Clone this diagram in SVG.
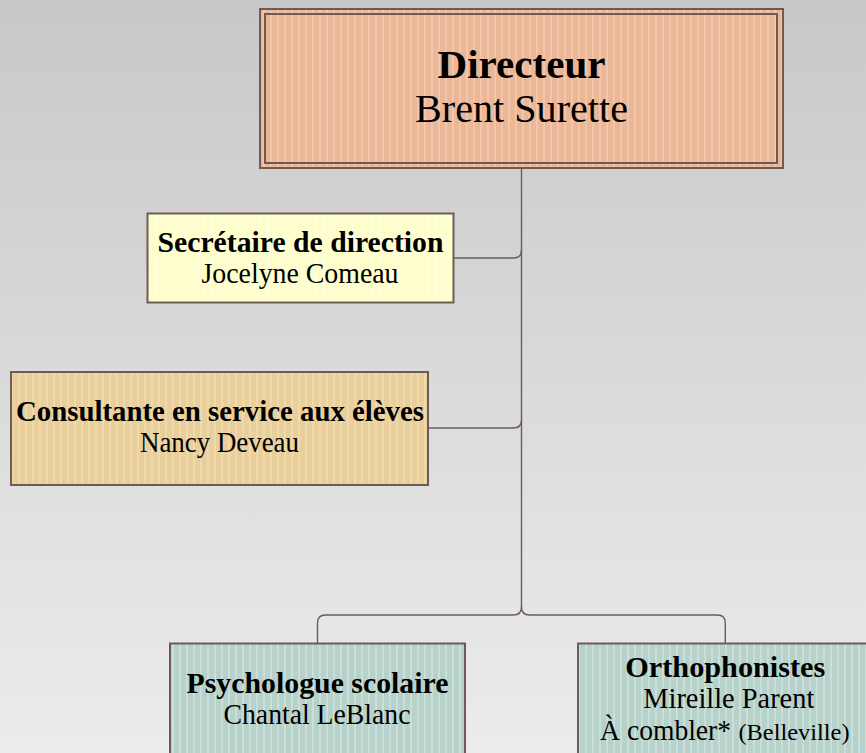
<svg xmlns="http://www.w3.org/2000/svg" width="866" height="753" viewBox="0 0 866 753">
<style>
.box{stroke:#6e5b56;stroke-width:2}
.conn{fill:none;stroke:#6e5b56;stroke-width:1.4}
text{font-family:"Liberation Serif","DejaVu Serif",serif;fill:#000;text-anchor:middle}
.b{font-weight:bold}
</style>
<defs>
<linearGradient id="bg" x1="0" y1="0" x2="0" y2="1">
<stop offset="0" stop-color="#c8c8c8"/>
<stop offset="1" stop-color="#ececec"/>
</linearGradient>
<pattern id="pPeach" width="7" height="10" patternUnits="userSpaceOnUse">
<rect width="7" height="10" fill="#ebb797"/><rect x="4" width="2" height="10" fill="#f2c6ab"/>
</pattern>
<pattern id="pYellow" width="7" height="10" patternUnits="userSpaceOnUse">
<rect width="7" height="10" fill="#ffffcb"/><rect x="4" width="2" height="10" fill="#fbfbd8"/>
</pattern>
<pattern id="pTan" width="7" height="10" patternUnits="userSpaceOnUse">
<rect width="7" height="10" fill="#e9cf9b"/><rect x="4" width="2" height="10" fill="#f0daab"/>
</pattern>
<pattern id="pSage" width="7" height="10" patternUnits="userSpaceOnUse">
<rect width="7" height="10" fill="#b7d2ca"/><rect x="4" width="2" height="10" fill="#c9dfd8"/>
</pattern>
</defs>
<rect width="866" height="753" fill="url(#bg)"/>
<g id="connectors">
<path class="conn" d="M521.5 168 V607 Q521.5 615 513.5 615 H325.5 Q317.5 615 317.5 623 V643"/>
<path class="conn" d="M521.5 607 Q521.5 615 529.5 615 H717.3 Q725.3 615 725.3 623 V643"/>
<path class="conn" d="M453 258 H513.5 Q521.5 258 521.5 250"/>
<path class="conn" d="M428 428 H513.5 Q521.5 428 521.5 420"/>
</g>
<g id="directeur">
<rect class="box" x="260" y="9" width="523" height="159" fill="url(#pPeach)"/>
<rect class="box" x="265" y="14" width="512" height="149" fill="none"/>
<text class="b" x="521.5" y="77.7" font-size="40" textLength="168" lengthAdjust="spacingAndGlyphs">Directeur</text>
<text x="521.5" y="121.7" font-size="40" textLength="213" lengthAdjust="spacingAndGlyphs">Brent Surette</text>
</g>
<g id="secretaire">
<rect class="box" x="147.5" y="213.5" width="306" height="89" fill="url(#pYellow)"/>
<text class="b" x="300.5" y="251.7" font-size="28.5" textLength="286" lengthAdjust="spacingAndGlyphs">Secrétaire de direction</text>
<text x="300" y="282.7" font-size="28.5" textLength="197" lengthAdjust="spacingAndGlyphs">Jocelyne Comeau</text>
</g>
<g id="consultante">
<rect class="box" x="11" y="372" width="417" height="113" fill="url(#pTan)"/>
<text class="b" x="220" y="420.7" font-size="28.5" textLength="408" lengthAdjust="spacingAndGlyphs">Consultante en service aux élèves</text>
<text x="219.5" y="451.7" font-size="28.5" textLength="159" lengthAdjust="spacingAndGlyphs">Nancy Deveau</text>
</g>
<g id="psychologue">
<rect class="box" x="170" y="643.5" width="295" height="120" fill="url(#pSage)"/>
<text class="b" x="317.5" y="692.7" font-size="28.5" textLength="262" lengthAdjust="spacingAndGlyphs">Psychologue scolaire</text>
<text x="317" y="724.3" font-size="28.5" textLength="187" lengthAdjust="spacingAndGlyphs">Chantal LeBlanc</text>
</g>
<g id="orthophonistes">
<rect class="box" x="578" y="643.5" width="295" height="120" fill="url(#pSage)"/>
<text class="b" x="725.3" y="676.7" font-size="28.5" textLength="200" lengthAdjust="spacingAndGlyphs">Orthophonistes</text>
<text x="728.8" y="708.3" font-size="28.5" textLength="171" lengthAdjust="spacingAndGlyphs">Mireille Parent</text>
<text x="665.6" y="740" font-size="28.5" textLength="131" lengthAdjust="spacingAndGlyphs">À combler*</text>
<text x="794" y="740" font-size="24" textLength="111" lengthAdjust="spacingAndGlyphs">(Belleville)</text>
</g>
</svg>
